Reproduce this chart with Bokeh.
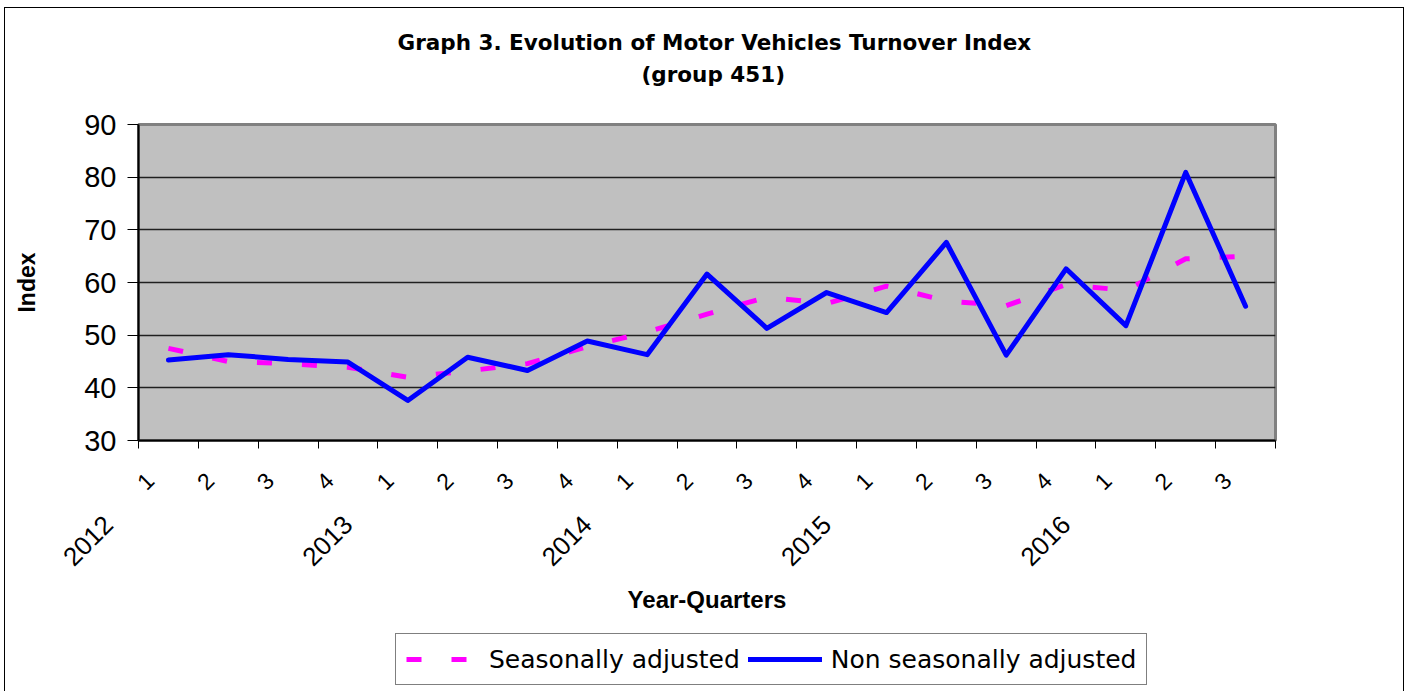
from bokeh.plotting import figure
from bokeh.layouts import column
from bokeh.models import Range1d, LinearAxis, FixedTicker, Title, Legend, LegendItem
from bokeh.embed import file_html
from bokeh.resources import INLINE
import math

# ---- data ----
years = ["2012", "2013", "2014", "2015", "2016"]
quarter_labels = ["1", "2", "3", "4", "1", "2", "3", "4", "1", "2", "3", "4",
                  "1", "2", "3", "4", "1", "2", "3"]
seasonally_adjusted = [47.5, 45.0, 44.6, 43.9, 42.0, 43.2, 44.6, 47.8, 50.6, 54.0,
                       57.2, 56.0, 59.3, 56.5, 55.6, 59.6, 58.5, 64.5, 65.0]
non_seasonally_adjusted = [45.3, 46.3, 45.4, 44.9, 37.6, 45.8, 43.3, 48.9, 46.3, 61.6,
                           51.3, 58.1, 54.3, 67.6, 46.2, 62.6, 51.8, 80.9, 55.5]
y_ticks = [30, 40, 50, 60, 70, 80, 90]
series_names = ["Seasonally adjusted", "Non seasonally adjusted"]

n = len(quarter_labels)
xs = [i + 0.5 for i in range(n)]
year_start_idx = [i for i in range(n) if quarter_labels[i] == "1"]

LAB_FONT = "Liberation Sans"
TXT_FONT = "DejaVu Sans"
NB = "\u00a0" * 6   # pads the rotated year labels so they sit left of their first quarter
SA_STYLE = dict(line_color="#ff00ff", line_width=5, line_dash="15 30", line_cap="butt")
NSA_STYLE = dict(line_color="#0000ff", line_width=5, line_join="round", line_cap="round")

p = figure(frame_width=1137, frame_height=316,
           x_range=Range1d(0, n), y_range=Range1d(30, 90),
           output_backend="svg", toolbar_location=None,
           min_border_left=133, min_border_right=128,
           min_border_top=116, min_border_bottom=185)
p.background_fill_color = "#c0c0c0"
p.border_fill_color = "#ffffff"
p.outline_line_color = "#808080"
p.outline_line_width = 3

p.extra_x_ranges = {"q": Range1d(-0.19, n - 0.19), "yr": Range1d(-0.01, n - 0.01)}

# grid
p.xgrid.visible = False
p.ygrid.grid_line_color = "#202020"
p.ygrid.grid_line_width = 1.5
p.ygrid.ticker = FixedTicker(ticks=y_ticks)

# y axis
p.yaxis.ticker = FixedTicker(ticks=y_ticks)
p.yaxis.axis_line_color = "#000000"
p.yaxis.axis_line_width = 2
p.yaxis.major_tick_out = 11
p.yaxis.major_tick_in = 0
p.yaxis.major_tick_line_color = "#000000"
p.yaxis.minor_tick_line_color = None
p.yaxis.major_label_text_font = LAB_FONT
p.yaxis.major_label_text_font_size = "29px"
p.yaxis.major_label_text_color = "#000000"
p.yaxis.major_label_standoff = 11
p.yaxis.axis_label = "Index"
p.yaxis.axis_label_text_font = LAB_FONT
p.yaxis.axis_label_text_font_style = "bold"
p.yaxis.axis_label_text_font_size = "23px"
p.yaxis.axis_label_text_color = "#000000"
p.yaxis.axis_label_standoff = 41

# primary x axis: tick marks at category boundaries only
p.xaxis.ticker = FixedTicker(ticks=list(range(n + 1)))
p.xaxis.major_label_overrides = {i: "" for i in range(n + 1)}
p.xaxis.major_label_text_font_size = "1px"
p.xaxis.major_label_text_color = None
p.xaxis.major_label_standoff = 0
p.xaxis.major_tick_out = 8
p.xaxis.major_tick_in = 0
p.xaxis.major_tick_line_color = "#000000"
p.xaxis.axis_line_color = "#000000"
p.xaxis.axis_line_width = 2

# quarter labels
qaxis = LinearAxis(x_range_name="q", ticker=FixedTicker(ticks=list(range(n))),
                   major_label_overrides={i: quarter_labels[i] for i in range(n)})
qaxis.axis_line_color = None
qaxis.major_tick_line_color = None
qaxis.major_tick_out = 0
qaxis.major_tick_in = 0
qaxis.major_label_orientation = math.pi / 4
qaxis.major_label_text_font = LAB_FONT
qaxis.major_label_text_font_size = "23px"
qaxis.major_label_text_color = "#000000"
qaxis.major_label_standoff = 28
p.add_layout(qaxis, "below")

# year labels
yaxis2 = LinearAxis(x_range_name="yr", ticker=FixedTicker(ticks=year_start_idx),
                    major_label_overrides={idx: years[k] + NB for k, idx in enumerate(year_start_idx)})
yaxis2.axis_line_color = None
yaxis2.major_tick_line_color = None
yaxis2.major_tick_out = 0
yaxis2.major_tick_in = 0
yaxis2.major_label_orientation = math.pi / 4
yaxis2.major_label_text_font = LAB_FONT
yaxis2.major_label_text_font_size = "26px"
yaxis2.major_label_text_color = "#000000"
yaxis2.major_label_standoff = -11
yaxis2.axis_label = "Year-Quarters"
yaxis2.axis_label_text_font = LAB_FONT
yaxis2.axis_label_text_font_style = "bold"
yaxis2.axis_label_text_font_size = "24px"
yaxis2.axis_label_text_color = "#000000"
yaxis2.axis_label_standoff = 1
p.add_layout(yaxis2, "below")

# series
p.line(xs, seasonally_adjusted, **SA_STYLE)
p.line(xs, non_seasonally_adjusted, **NSA_STYLE)

# titles
t2 = Title(text="(group 451)", align="left", text_font=TXT_FONT,
           text_font_style="bold", text_font_size="21.5px", text_color="#000000",
           standoff=75, offset=503)
t1 = Title(text="Graph 3. Evolution of Motor Vehicles Turnover Index", align="left",
           text_font=TXT_FONT, text_font_style="bold", text_font_size="21.5px",
           text_color="#000000", standoff=-65, offset=259)
p.add_layout(t2, "above")
p.add_layout(t1, "above")

# legend strip under the chart (same series, drawn outside its own view)
pl = figure(width=1398, height=66, x_range=Range1d(0, n), y_range=Range1d(0, 1),
            output_backend="svg", toolbar_location=None,
            x_axis_type=None, y_axis_type=None,
            min_border_left=0, min_border_right=0, min_border_top=0, min_border_bottom=0)
pl.grid.visible = False
pl.outline_line_color = None
pl.background_fill_color = "#ffffff"
pl.border_fill_color = "#ffffff"
l_sa = pl.line(xs, seasonally_adjusted, **SA_STYLE)
l_nsa = pl.line(xs, non_seasonally_adjusted, **NSA_STYLE)

legend = Legend(items=[LegendItem(label=series_names[0], renderers=[l_sa]),
                       LegendItem(label=series_names[1], renderers=[l_nsa])],
                orientation="horizontal", location=(257, 6))
legend.label_text_font = TXT_FONT
legend.label_text_font_size = "25px"
legend.label_text_color = "#000000"
legend.glyph_width = 74
legend.glyph_height = 30
legend.label_standoff = 9
legend.spacing = 8
legend.padding = 10
legend.margin = 0
legend.border_line_color = "#000000"
legend.border_line_width = 1
legend.background_fill_color = "#ffffff"
legend.background_fill_alpha = 1.0
pl.add_layout(legend, "center")

page = column(p, pl, spacing=0,
              styles={"margin-left": "4px", "margin-top": "7px",
                      "border-top": "1px solid #000000", "border-left": "1px solid #000000",
                      "border-right": "1px solid #000000"})

open("out.html", "w").write(file_html(page, INLINE))
